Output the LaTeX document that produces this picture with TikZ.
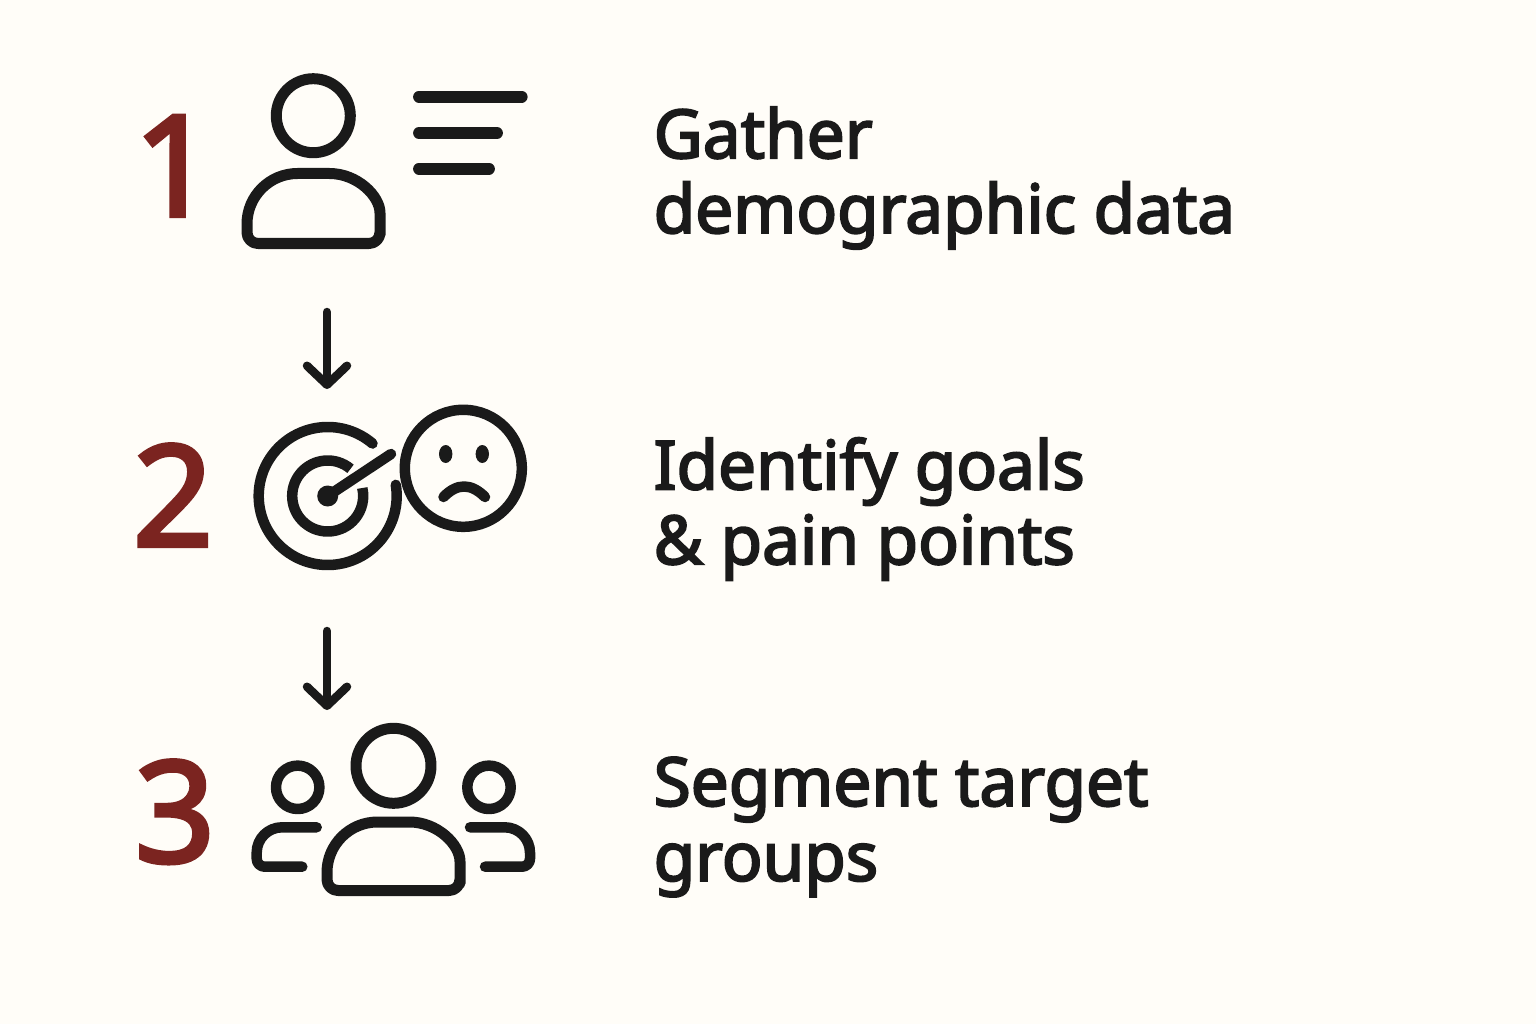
\documentclass[tikz,border=0pt]{standalone}
\usepackage{fontspec}
\usepackage{color}
\usetikzlibrary{arrows.meta}
\setmainfont{Noto Sans}[FakeBold=3]
\definecolor{paper}{HTML}{FFFDF8}
\definecolor{ink}{HTML}{1A1A1A}
\definecolor{numred}{HTML}{7B2420}
\tikzset{
  icon/.style={draw=ink, line width=0.11cm, line cap=round, line join=round},
  flow/.style={draw=ink, line width=0.085cm, line cap=round, -{Straight Barb[length=0.19cm, width=0.40cm, round]}},
  num/.style={anchor=base, inner sep=0pt, text=numred, font=\fontsize{40}{40}\selectfont},
  caption/.style={anchor=west, inner sep=0pt, align=left, text=ink, font=\fontsize{19.2}{21.3}\selectfont}
}
\begin{document}
\begin{tikzpicture}
\fill [paper] (0,0) rectangle (15.36,10.24);

\node (one) at (1.74,8.08) [num]{1};
\node (two) at (1.73,4.78) [num]{2};
\node (three) at (1.75,1.62) [num]{3};
\node (gather) at (6.53,8.46) [caption]{Gather\\demographic data};
\node (identify) at (6.53,5.15) [caption]{Identify goals\\\& pain points};
\node (segment) at (6.53,1.97) [caption]{Segment target\\groups};

% person and list
\draw [icon] (3.133,9.083) circle (0.37);
\draw [icon] (2.47,8.0) [rounded corners=0.11cm] -- (2.47,7.805) -- (3.80,7.805) -- (3.80,8.0) [sharp corners] arc (0:90:0.505) -- (2.975,8.505) arc (90:180:0.505) -- cycle;
\draw [icon, line width=0.118cm] (4.19,9.273) -- (5.217,9.273);
\draw [icon, line width=0.118cm] (4.19,8.91) -- (4.97,8.91);
\draw [icon, line width=0.118cm] (4.19,8.553) -- (4.89,8.553);

\coordinate (start1) at (3.27,7.12);
\coordinate (end1) at (3.27,6.35);
\draw [flow] (start1) -- (end1);

% target
\draw [icon, line width=0.105cm] (3.277,5.28) ++(49.5:0.69) arc (49.5:369.3:0.69);
\draw [icon, line width=0.105cm, line cap=butt] (3.277,5.28) ++(50:0.355) arc (50:373:0.355);
\draw [icon, line width=0.105cm] (3.277,5.28) -- (3.91,5.70);
\fill [ink] (3.277,5.28) circle (0.105);
% sad face
\draw [icon, line width=0.105cm] (4.633,5.557) circle (0.585);
\fill [ink] (4.457,5.70) ellipse (0.067 and 0.09);
\fill [ink] (4.823,5.70) ellipse (0.067 and 0.09);
\draw [icon, line width=0.105cm] (4.435,5.27) .. controls (4.57,5.41) and (4.71,5.41) .. (4.85,5.27);

\coordinate (start2) at (3.27,3.93);
\coordinate (end2) at (3.27,3.14);
\draw [flow] (start2) -- (end2);

% group
\draw [icon] (3.935,2.582) circle (0.375);
\draw [icon] (3.27,1.515) [rounded corners=0.11cm] -- (3.27,1.335) -- (4.60,1.335) -- (4.60,1.515) [sharp corners] arc (0:90:0.505) -- (3.775,2.02) arc (90:180:0.505) -- cycle;
\draw [icon, line width=0.105cm] (2.977,2.367) circle (0.217);
\draw [icon, line width=0.105cm] (4.89,2.367) circle (0.217);
\draw [icon, line width=0.105cm] (3.167,1.967) -- (2.82,1.967) arc (90:180:0.253) [rounded corners=0.08cm] -- (2.567,1.573) -- (3.023,1.573);
\draw [icon, line width=0.105cm] (4.70,1.967) -- (5.047,1.967) arc (90:0:0.253) [rounded corners=0.08cm] -- (5.30,1.573) -- (4.85,1.573);
\end{tikzpicture}
\end{document}
